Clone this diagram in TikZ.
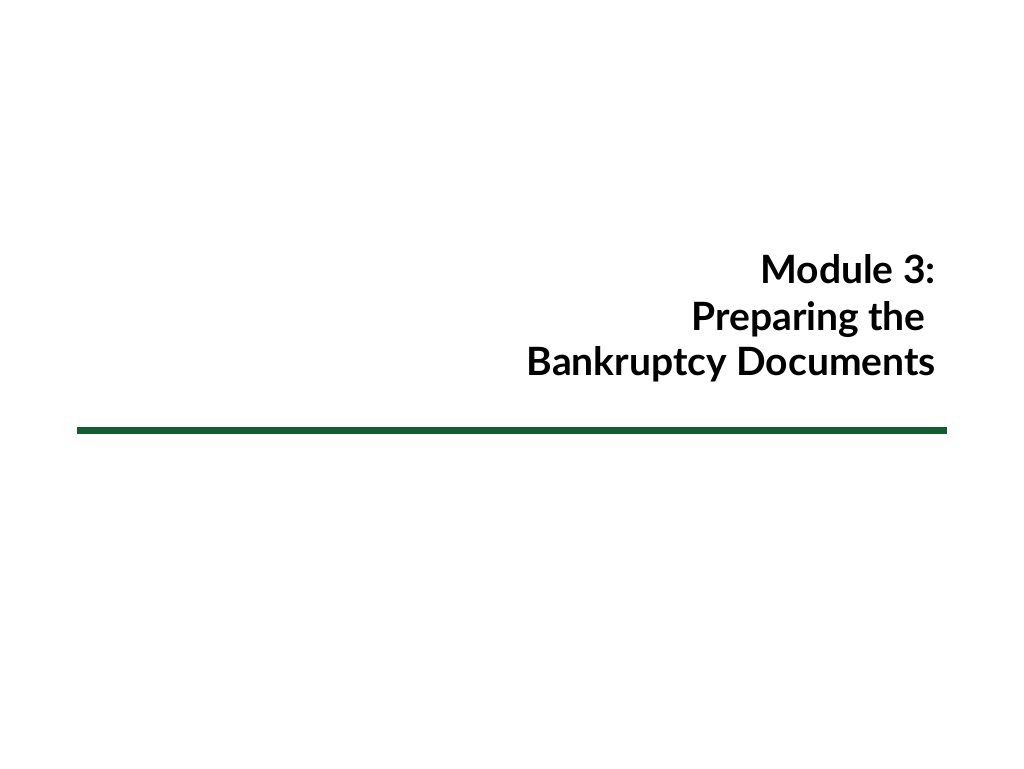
\documentclass[tikz,border=0pt]{standalone}
\usepackage{fontspec}
\setmainfont{Lato}
\definecolor{rulegreen}{RGB}{19,94,48}
\begin{document}
\begin{tikzpicture}[x=1pt,y=1pt,
  title/.style={font=\fontsize{39}{47}\selectfont\bfseries, inner sep=0pt, anchor=base east, text=black}]
\useasboundingbox (0,0) rectangle (1024,768);
\fill[white] (0,0) rectangle (1024,768);
\node[title] (l1) at (936,484) {Module 3:};
\node[title] (l2) at (936,437) {Preparing the\hspace*{10pt}};
\node[title] (l3) at (936,392) {Bankruptcy Documents};
\coordinate (ra) at (77,337.5);
\coordinate (rb) at (947,337.5);
\draw[rulegreen, line width=7.5pt] (ra) -- (rb);
\end{tikzpicture}
\end{document}
